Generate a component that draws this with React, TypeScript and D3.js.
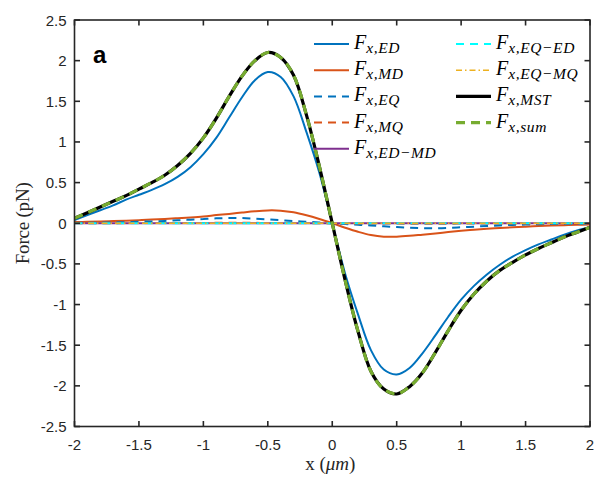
import { useEffect, useRef } from "react"
import * as d3 from "d3"

// sample positions (um)
const xs = [
  -2.0, -1.9, -1.8, -1.7, -1.6, -1.5, -1.4, -1.3, -1.2, -1.1, -1.0, -0.9, -0.8, -0.7, -0.6, -0.5, -0.4, -0.3, -0.2, -0.1,
  0.0, 0.1, 0.2, 0.3, 0.4, 0.5, 0.6, 0.7, 0.8, 0.9, 1.0, 1.1, 1.2, 1.3, 1.4, 1.5, 1.6, 1.7, 1.8, 1.9, 2.0,
]

const fED = [
  0.04, 0.1, 0.16, 0.22, 0.29, 0.35, 0.41, 0.48, 0.57, 0.69, 0.85, 1.05, 1.3, 1.55, 1.76, 1.86, 1.8, 1.56, 1.12, 0.62,
  0, -0.62, -1.12, -1.56, -1.8, -1.86, -1.78, -1.6, -1.38, -1.15, -0.94, -0.77, -0.63, -0.51, -0.41, -0.33, -0.26, -0.2, -0.14, -0.09, -0.05,
]
const fMD = [
  0.015, 0.018, 0.022, 0.027, 0.032, 0.038, 0.045, 0.053, 0.062, 0.072, 0.084, 0.1, 0.115, 0.132, 0.148, 0.158, 0.155, 0.135, 0.098, 0.052,
  0, -0.055, -0.105, -0.145, -0.165, -0.165, -0.155, -0.14, -0.125, -0.108, -0.093, -0.08, -0.068, -0.058, -0.049, -0.042, -0.035, -0.029, -0.024, -0.019, -0.015,
]
const fEQ = [
  0.004, 0.006, 0.008, 0.011, 0.014, 0.018, 0.023, 0.029, 0.036, 0.044, 0.052, 0.06, 0.065, 0.064, 0.057, 0.048, 0.038, 0.028, 0.019, 0.009,
  0, -0.009, -0.019, -0.028, -0.038, -0.047, -0.055, -0.06, -0.062, -0.058, -0.05, -0.042, -0.034, -0.027, -0.021, -0.016, -0.012, -0.009, -0.007, -0.005, -0.004,
]
const fMQ = [
  0.001, 0.001, 0.001, 0.001, 0.002, 0.002, 0.002, 0.003, 0.003, 0.004, 0.004, 0.005, 0.005, 0.005, 0.005, 0.004, 0.004, 0.003, 0.002, 0.001,
  0, -0.001, -0.002, -0.003, -0.004, -0.004, -0.005, -0.005, -0.005, -0.005, -0.004, -0.004, -0.003, -0.003, -0.002, -0.002, -0.002, -0.001, -0.001, -0.001, -0.001,
]
const fEDMD = [
  0, 0, 0, 0, 0, 0, 0, 0, 0, 0, 0, 0, 0, 0, 0, 0, 0, 0, 0, 0,
  0, 0, 0, 0, 0, 0, 0, 0, 0, 0, 0, 0, 0, 0, 0, 0, 0, 0, 0, 0, 0,
]
const fEQED = [
  0, 0, 0, 0, 0, 0, 0, 0, 0, 0, 0, 0, 0, 0, 0, 0, 0, 0, 0, 0,
  0, 0, 0, 0, 0, 0, 0, 0, 0, 0, 0, 0, 0, 0, 0, 0, 0, 0, 0, 0, 0,
]
const fEQMQ = [
  0, 0, 0, 0, 0, 0, 0, 0, 0, 0, 0, 0, 0, 0, 0, 0, 0, 0, 0, 0,
  0, 0, 0, 0, 0, 0, 0, 0, 0, 0, 0, 0, 0, 0, 0, 0, 0, 0, 0, 0, 0,
]
const fMST = [
  0.06, 0.13, 0.2, 0.27, 0.34, 0.42, 0.5, 0.59, 0.71, 0.86, 1.05, 1.29, 1.56, 1.81, 2.0, 2.1, 2.04, 1.82, 1.33, 0.7,
  0, -0.7, -1.33, -1.82, -2.04, -2.1, -2.01, -1.84, -1.59, -1.32, -1.07, -0.87, -0.71, -0.58, -0.48, -0.39, -0.31, -0.24, -0.17, -0.11, -0.05,
]
const fSum = fMST

const xTicks = [-2, -1.5, -1, -0.5, 0, 0.5, 1, 1.5, 2]
const yTicks = [-2.5, -2, -1.5, -1, -0.5, 0, 0.5, 1, 1.5, 2, 2.5]

interface Series {
  sub: string
  values: number[]
  color: string
  width: number
  dash: string | null
}

const series: Series[] = [
  { sub: "x,ED", values: fED, color: "#0072BD", width: 2, dash: null },
  { sub: "x,MD", values: fMD, color: "#D95319", width: 2, dash: null },
  { sub: "x,EQ", values: fEQ, color: "#0072BD", width: 2, dash: "8 6" },
  { sub: "x,MQ", values: fMQ, color: "#D95319", width: 2, dash: "8 6" },
  { sub: "x,ED−MD", values: fEDMD, color: "#7E2F8E", width: 2, dash: null },
  { sub: "x,EQ−ED", values: fEQED, color: "#00FFFF", width: 2, dash: "8 6" },
  { sub: "x,EQ−MQ", values: fEQMQ, color: "#EDB120", width: 1.5, dash: "6 3 1.5 3" },
  { sub: "x,MST", values: fMST, color: "#000000", width: 3.2, dash: null },
  { sub: "x,sum", values: fSum, color: "#77AC30", width: 3.2, dash: "9 6" },
]

const INK = "#262626"

export default function App() {
  const ref = useRef<SVGSVGElement>(null)

  useEffect(() => {
    if (!ref.current) return
    const svg = d3.select(ref.current)
    svg.selectAll("*").remove()

    const L = 74.5
    const R = 590
    const T = 20
    const B = 426.5

    const x = d3.scaleLinear().domain([-2, 2]).range([L, R])
    const y = d3.scaleLinear().domain([-2.5, 2.5]).range([B, T])

    const line = d3
      .line<number>()
      .x((_, i) => x(xs[i]))
      .y((d) => y(d))
      .curve(d3.curveCatmullRom.alpha(0.5))

    const clip = svg.append("clipPath").attr("id", "plotclip")
    clip.append("rect").attr("x", L).attr("y", T).attr("width", R - L).attr("height", B - T)

    const lines = svg.append("g").attr("clip-path", "url(#plotclip)")
    series.forEach((s) => {
      lines
        .append("path")
        .attr("d", line(s.values))
        .attr("fill", "none")
        .attr("stroke", s.color)
        .attr("stroke-width", s.width)
        .attr("stroke-dasharray", s.dash)
    })

    // box + ticks
    const frame = svg.append("g")
    frame
      .append("rect")
      .attr("x", L)
      .attr("y", T)
      .attr("width", R - L)
      .attr("height", B - T)
      .attr("fill", "none")
      .attr("stroke", INK)
      .attr("stroke-width", 1.6)

    const TK = 5.5
    xTicks.forEach((t) => {
      frame.append("line").attr("x1", x(t)).attr("x2", x(t)).attr("y1", B).attr("y2", B - TK).attr("stroke", INK).attr("stroke-width", 1.6)
      frame.append("line").attr("x1", x(t)).attr("x2", x(t)).attr("y1", T).attr("y2", T + TK).attr("stroke", INK).attr("stroke-width", 1.6)
      frame
        .append("text")
        .attr("x", x(t))
        .attr("y", B + 23)
        .attr("text-anchor", "middle")
        .attr("font-family", "Liberation Sans, Arial, sans-serif")
        .attr("font-size", 15)
        .attr("fill", INK)
        .text(String(t))
    })
    yTicks.forEach((t) => {
      frame.append("line").attr("x1", L).attr("x2", L + TK).attr("y1", y(t)).attr("y2", y(t)).attr("stroke", INK).attr("stroke-width", 1.6)
      frame.append("line").attr("x1", R).attr("x2", R - TK).attr("y1", y(t)).attr("y2", y(t)).attr("stroke", INK).attr("stroke-width", 1.6)
      frame
        .append("text")
        .attr("x", L - 8)
        .attr("y", y(t) + 5.5)
        .attr("text-anchor", "end")
        .attr("font-family", "Liberation Sans, Arial, sans-serif")
        .attr("font-size", 15)
        .attr("fill", INK)
        .text(String(t))
    })

    // axis titles
    const xt = svg
      .append("text")
      .attr("x", (L + R) / 2 - 2)
      .attr("y", 470)
      .attr("text-anchor", "middle")
      .attr("font-family", "Liberation Serif, Times New Roman, serif")
      .attr("font-size", 19)
      .attr("fill", INK)
    xt.append("tspan").text("x (")
    xt.append("tspan").attr("font-style", "italic").text("μm")
    xt.append("tspan").text(")")

    svg
      .append("text")
      .attr("transform", `translate(29, ${(T + B) / 2}) rotate(-90)`)
      .attr("text-anchor", "middle")
      .attr("font-family", "Liberation Serif, Times New Roman, serif")
      .attr("font-size", 19)
      .attr("textLength", 82)
      .attr("lengthAdjust", "spacing")
      .attr("fill", INK)
      .text("Force (pN)")

    // panel label
    svg
      .append("text")
      .attr("x", 93)
      .attr("y", 63)
      .attr("font-family", "Liberation Sans, Arial, sans-serif")
      .attr("font-weight", 700)
      .attr("font-size", 24)
      .attr("fill", "#000")
      .text("a")

    // legend
    const legend = svg.append("g")
    series.forEach((s, i) => {
      const col = i < 5 ? 0 : 1
      const row = i < 5 ? i : i - 5
      const lx = col === 0 ? 314 : 456
      const ly = 44 + row * 26.2
      legend
        .append("line")
        .attr("x1", lx)
        .attr("x2", lx + 35)
        .attr("y1", ly)
        .attr("y2", ly)
        .attr("stroke", s.color)
        .attr("stroke-width", s.width)
        .attr("stroke-dasharray", s.dash)
      const tx = legend
        .append("text")
        .attr("x", lx + 40)
        .attr("y", ly + 5)
        .attr("font-family", "Liberation Serif, Times New Roman, serif")
        .attr("font-style", "italic")
        .attr("fill", "#000")
      tx.append("tspan").attr("font-size", 20).text("F")
      tx.append("tspan").attr("font-size", 15.5).attr("dy", 4).attr("letter-spacing", 0.6).text(s.sub)
    })
  }, [])

  return (
    <div style={{ position: "absolute", left: 0, top: 0, width: 606, height: 498, background: "#fff" }}>
      <svg ref={ref} width={606} height={498} style={{ display: "block" }} />
    </div>
  )
}
